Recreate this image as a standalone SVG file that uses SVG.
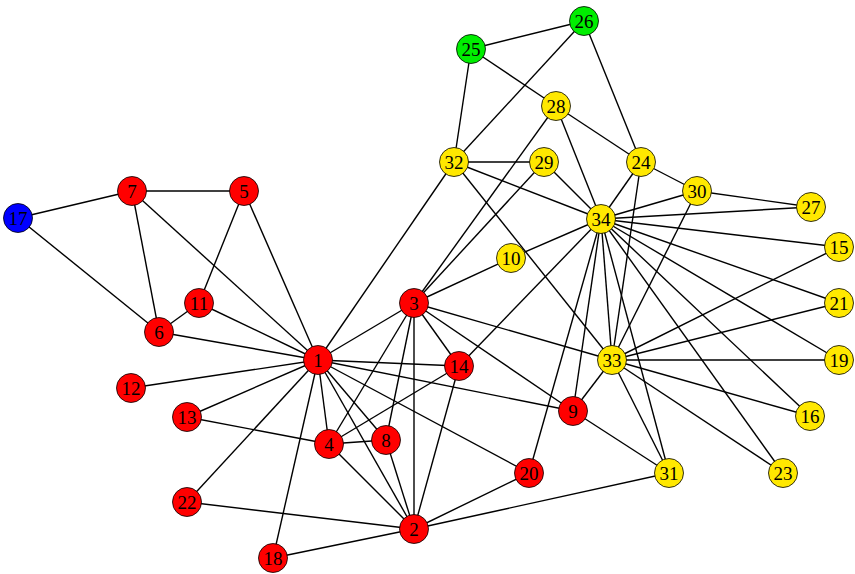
<svg xmlns="http://www.w3.org/2000/svg" width="855" height="574" viewBox="0 0 855 574">
<style>
.e line{stroke:#000;stroke-width:1.4;}
circle{stroke:#000;stroke-width:0.8;}
.r circle{fill:#ff0000;}
.y circle{fill:#ffe800;}
.g circle{fill:#00ee00;}
.b circle{fill:#0000ff;}
text{font-family:"Liberation Serif","DejaVu Serif",serif;font-size:19px;text-anchor:middle;dominant-baseline:central;fill:#000;}
</style>
<rect width="855" height="574" fill="#fff"/>
<g class="e">
<!-- 1 -->
<line x1="318" y1="360" x2="414" y2="529"/>
<line x1="318" y1="360" x2="414" y2="303"/>
<line x1="318" y1="360" x2="329" y2="444"/>
<line x1="318" y1="360" x2="244" y2="191"/>
<line x1="318" y1="360" x2="159" y2="332"/>
<line x1="318" y1="360" x2="132" y2="191"/>
<line x1="318" y1="360" x2="386" y2="440"/>
<line x1="318" y1="360" x2="573" y2="411"/>
<line x1="318" y1="360" x2="199" y2="303"/>
<line x1="318" y1="360" x2="131" y2="388"/>
<line x1="318" y1="360" x2="187" y2="417"/>
<line x1="318" y1="360" x2="459" y2="366"/>
<line x1="318" y1="360" x2="273" y2="558"/>
<line x1="318" y1="360" x2="529" y2="473"/>
<line x1="318" y1="360" x2="187" y2="502"/>
<line x1="318" y1="360" x2="454" y2="162"/>
<!-- 2 -->
<line x1="414" y1="529" x2="414" y2="303"/>
<line x1="414" y1="529" x2="329" y2="444"/>
<line x1="414" y1="529" x2="386" y2="440"/>
<line x1="414" y1="529" x2="459" y2="366"/>
<line x1="414" y1="529" x2="273" y2="558"/>
<line x1="414" y1="529" x2="529" y2="473"/>
<line x1="414" y1="529" x2="187" y2="502"/>
<line x1="414" y1="529" x2="669" y2="473"/>
<!-- 3 -->
<line x1="414" y1="303" x2="329" y2="444"/>
<line x1="414" y1="303" x2="386" y2="440"/>
<line x1="414" y1="303" x2="573" y2="411"/>
<line x1="414" y1="303" x2="511" y2="258"/>
<line x1="414" y1="303" x2="459" y2="366"/>
<line x1="414" y1="303" x2="556" y2="106"/>
<line x1="414" y1="303" x2="544" y2="162"/>
<line x1="414" y1="303" x2="612" y2="360"/>
<!-- 4 -->
<line x1="329" y1="444" x2="386" y2="440"/>
<line x1="329" y1="444" x2="187" y2="417"/>
<line x1="329" y1="444" x2="459" y2="366"/>
<!-- 5,6,7 -->
<line x1="244" y1="191" x2="132" y2="191"/>
<line x1="244" y1="191" x2="199" y2="303"/>
<line x1="159" y1="332" x2="132" y2="191"/>
<line x1="159" y1="332" x2="199" y2="303"/>
<line x1="159" y1="332" x2="18" y2="218"/>
<line x1="132" y1="191" x2="18" y2="218"/>
<!-- 9 -->
<line x1="573" y1="411" x2="669" y2="473"/>
<line x1="573" y1="411" x2="612" y2="360"/>
<line x1="573" y1="411" x2="601" y2="219"/>
<!-- 34 edges -->
<line x1="511" y1="258" x2="601" y2="219"/>
<line x1="459" y1="366" x2="601" y2="219"/>
<line x1="839" y1="247" x2="612" y2="360"/>
<line x1="839" y1="247" x2="601" y2="219"/>
<line x1="810" y1="416" x2="612" y2="360"/>
<line x1="810" y1="416" x2="601" y2="219"/>
<line x1="839" y1="360" x2="612" y2="360"/>
<line x1="839" y1="360" x2="601" y2="219"/>
<line x1="529" y1="473" x2="601" y2="219"/>
<line x1="839" y1="303" x2="612" y2="360"/>
<line x1="839" y1="303" x2="601" y2="219"/>
<line x1="783" y1="473" x2="612" y2="360"/>
<line x1="783" y1="473" x2="601" y2="219"/>
<line x1="641" y1="162" x2="584" y2="21"/>
<line x1="641" y1="162" x2="556" y2="106"/>
<line x1="641" y1="162" x2="697" y2="191"/>
<line x1="641" y1="162" x2="612" y2="360"/>
<line x1="641" y1="162" x2="601" y2="219"/>
<line x1="471" y1="49" x2="584" y2="21"/>
<line x1="471" y1="49" x2="556" y2="106"/>
<line x1="471" y1="49" x2="454" y2="162"/>
<line x1="584" y1="21" x2="454" y2="162"/>
<line x1="811" y1="207" x2="697" y2="191"/>
<line x1="811" y1="207" x2="601" y2="219"/>
<line x1="556" y1="106" x2="601" y2="219"/>
<line x1="544" y1="162" x2="454" y2="162"/>
<line x1="544" y1="162" x2="601" y2="219"/>
<line x1="697" y1="191" x2="612" y2="360"/>
<line x1="697" y1="191" x2="601" y2="219"/>
<line x1="669" y1="473" x2="612" y2="360"/>
<line x1="669" y1="473" x2="601" y2="219"/>
<line x1="454" y1="162" x2="612" y2="360"/>
<line x1="454" y1="162" x2="601" y2="219"/>
<line x1="612" y1="360" x2="601" y2="219"/>
</g>
<g id="n1" class="r"><circle cx="318" cy="360" r="14.5"/><text x="318" y="360">1</text></g>
<g id="n2" class="r"><circle cx="414" cy="529" r="14.5"/><text x="414" y="529">2</text></g>
<g id="n3" class="r"><circle cx="414" cy="303" r="14.5"/><text x="414" y="303">3</text></g>
<g id="n4" class="r"><circle cx="329" cy="444" r="14.5"/><text x="329" y="444">4</text></g>
<g id="n5" class="r"><circle cx="244" cy="191" r="14.5"/><text x="244" y="191">5</text></g>
<g id="n6" class="r"><circle cx="159" cy="332" r="14.5"/><text x="159" y="332">6</text></g>
<g id="n7" class="r"><circle cx="132" cy="191" r="14.5"/><text x="132" y="191">7</text></g>
<g id="n8" class="r"><circle cx="386" cy="440" r="14.5"/><text x="386" y="440">8</text></g>
<g id="n9" class="r"><circle cx="573" cy="411" r="14.5"/><text x="573" y="411">9</text></g>
<g id="n10" class="y"><circle cx="511" cy="258" r="14.5"/><text x="511" y="258">10</text></g>
<g id="n11" class="r"><circle cx="199" cy="303" r="14.5"/><text x="199" y="303">11</text></g>
<g id="n12" class="r"><circle cx="131" cy="388" r="14.5"/><text x="131" y="388">12</text></g>
<g id="n13" class="r"><circle cx="187" cy="417" r="14.5"/><text x="187" y="417">13</text></g>
<g id="n14" class="r"><circle cx="459" cy="366" r="14.5"/><text x="459" y="366">14</text></g>
<g id="n15" class="y"><circle cx="839" cy="247" r="14.5"/><text x="839" y="247">15</text></g>
<g id="n16" class="y"><circle cx="810" cy="416" r="14.5"/><text x="810" y="416">16</text></g>
<g id="n17" class="b"><circle cx="18" cy="218" r="14.5"/><text x="18" y="218">17</text></g>
<g id="n18" class="r"><circle cx="273" cy="558" r="14.5"/><text x="273" y="558">18</text></g>
<g id="n19" class="y"><circle cx="839" cy="360" r="14.5"/><text x="839" y="360">19</text></g>
<g id="n20" class="r"><circle cx="529" cy="473" r="14.5"/><text x="529" y="473">20</text></g>
<g id="n21" class="y"><circle cx="839" cy="303" r="14.5"/><text x="839" y="303">21</text></g>
<g id="n22" class="r"><circle cx="187" cy="502" r="14.5"/><text x="187" y="502">22</text></g>
<g id="n23" class="y"><circle cx="783" cy="473" r="14.5"/><text x="783" y="473">23</text></g>
<g id="n24" class="y"><circle cx="641" cy="162" r="14.5"/><text x="641" y="162">24</text></g>
<g id="n25" class="g"><circle cx="471" cy="49" r="14.5"/><text x="471" y="49">25</text></g>
<g id="n26" class="g"><circle cx="584" cy="21" r="14.5"/><text x="584" y="21">26</text></g>
<g id="n27" class="y"><circle cx="811" cy="207" r="14.5"/><text x="811" y="207">27</text></g>
<g id="n28" class="y"><circle cx="556" cy="106" r="14.5"/><text x="556" y="106">28</text></g>
<g id="n29" class="y"><circle cx="544" cy="162" r="14.5"/><text x="544" y="162">29</text></g>
<g id="n30" class="y"><circle cx="697" cy="191" r="14.5"/><text x="697" y="191">30</text></g>
<g id="n31" class="y"><circle cx="669" cy="473" r="14.5"/><text x="669" y="473">31</text></g>
<g id="n32" class="y"><circle cx="454" cy="162" r="14.5"/><text x="454" y="162">32</text></g>
<g id="n33" class="y"><circle cx="612" cy="360" r="14.5"/><text x="612" y="360">33</text></g>
<g id="n34" class="y"><circle cx="601" cy="219" r="14.5"/><text x="601" y="219">34</text></g>
</svg>
